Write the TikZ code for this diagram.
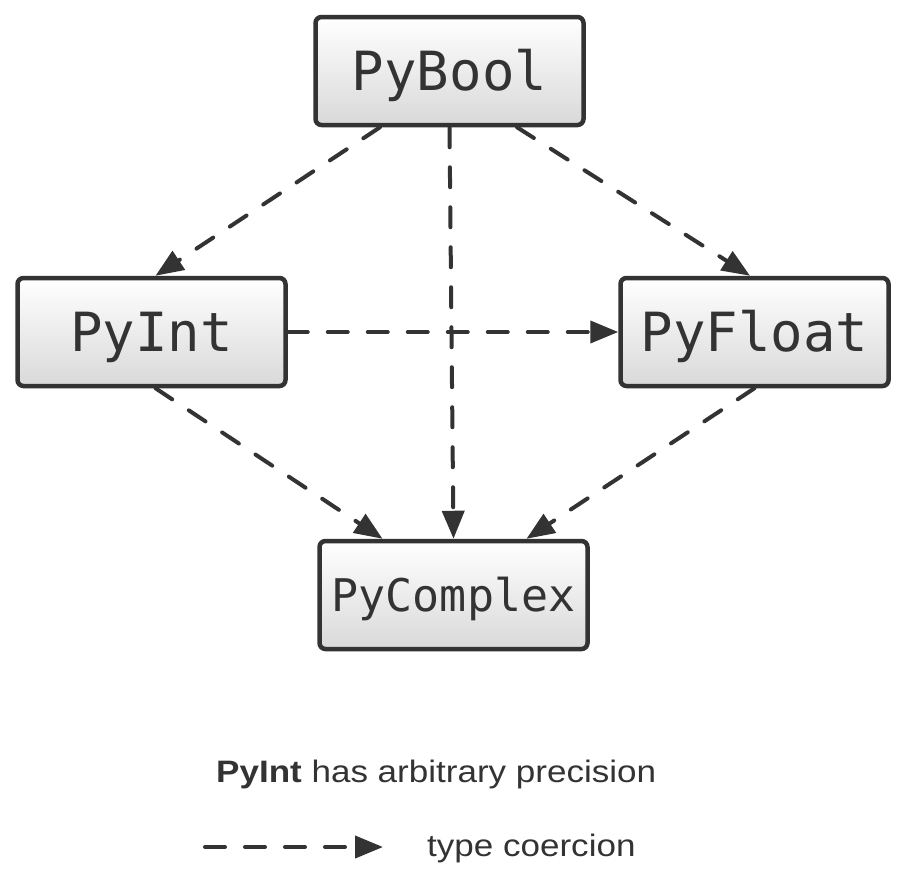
\documentclass[tikz,border=0pt]{standalone}
\usepackage{fontspec}
\setmonofont{DejaVu Sans Mono}
\newfontfamily\legendfont[FakeStretch=1.13]{Liberation Sans}
\usetikzlibrary{arrows.meta,calc}
\definecolor{dk}{HTML}{333333}
\tikzset{
  typebox/.style={draw=dk, line width=4.5pt, rounded corners=6pt,
    top color=white, bottom color=black!15, text=dk,
    minimum width=268pt, minimum height=108pt, inner sep=0pt,
    font=\ttfamily\fontsize{54}{60}\selectfont, text height=39.4pt, text depth=0pt},
  smallbox/.style={typebox, font=\ttfamily\fontsize{45}{50}\selectfont, text height=32.8pt},
  coerce/.style={draw=dk, line width=4pt, line cap=round,
    dash pattern=on 20pt off 20pt,
    -{Triangle[length=28pt,width=22pt,line cap=butt]}, fill=none},
  legendtext/.style={text=dk, inner sep=0pt, anchor=base west,
    font=\legendfont\fontsize{31}{36}\selectfont}
}
\begin{document}
\begin{tikzpicture}[x=1pt,y=-1pt]
\useasboundingbox (0,0) rectangle (900,895);
\node[typebox] (bool) at (449.5,71) {PyBool};
\node[typebox] (int) at (151.5,332) {PyInt};
\node[typebox] (flt) at (754.5,332) {PyFloat};
\node[smallbox] (cplx) at (453.5,595) {PyComplex};

\draw[coerce] ($(bool.south)+(-69.5,0)$) -- ($(int.north)+(4,0)$);
\draw[coerce] ($(bool.south)+(67.5,0)$) -- ($(flt.north)+(-4.5,0)$);
\draw[coerce] (bool.south) -- (cplx.north);
\draw[coerce] (int.east) -- (flt.west);
\draw[coerce] ($(int.south)+(4,0)$) -- ($(cplx.north)+(-71,0)$);
\draw[coerce] (flt.south) -- ($(cplx.north)+(73,0)$);

\node[legendtext] (note) at (216,782) {\textbf{PyInt} has arbitrary precision};
\coordinate (la) at (205,847);
\coordinate (lb) at (383,847);
\draw[coerce] (la) -- (lb);
\node[legendtext] (lt) at (427,856) {type coercion};
\end{tikzpicture}
\end{document}
